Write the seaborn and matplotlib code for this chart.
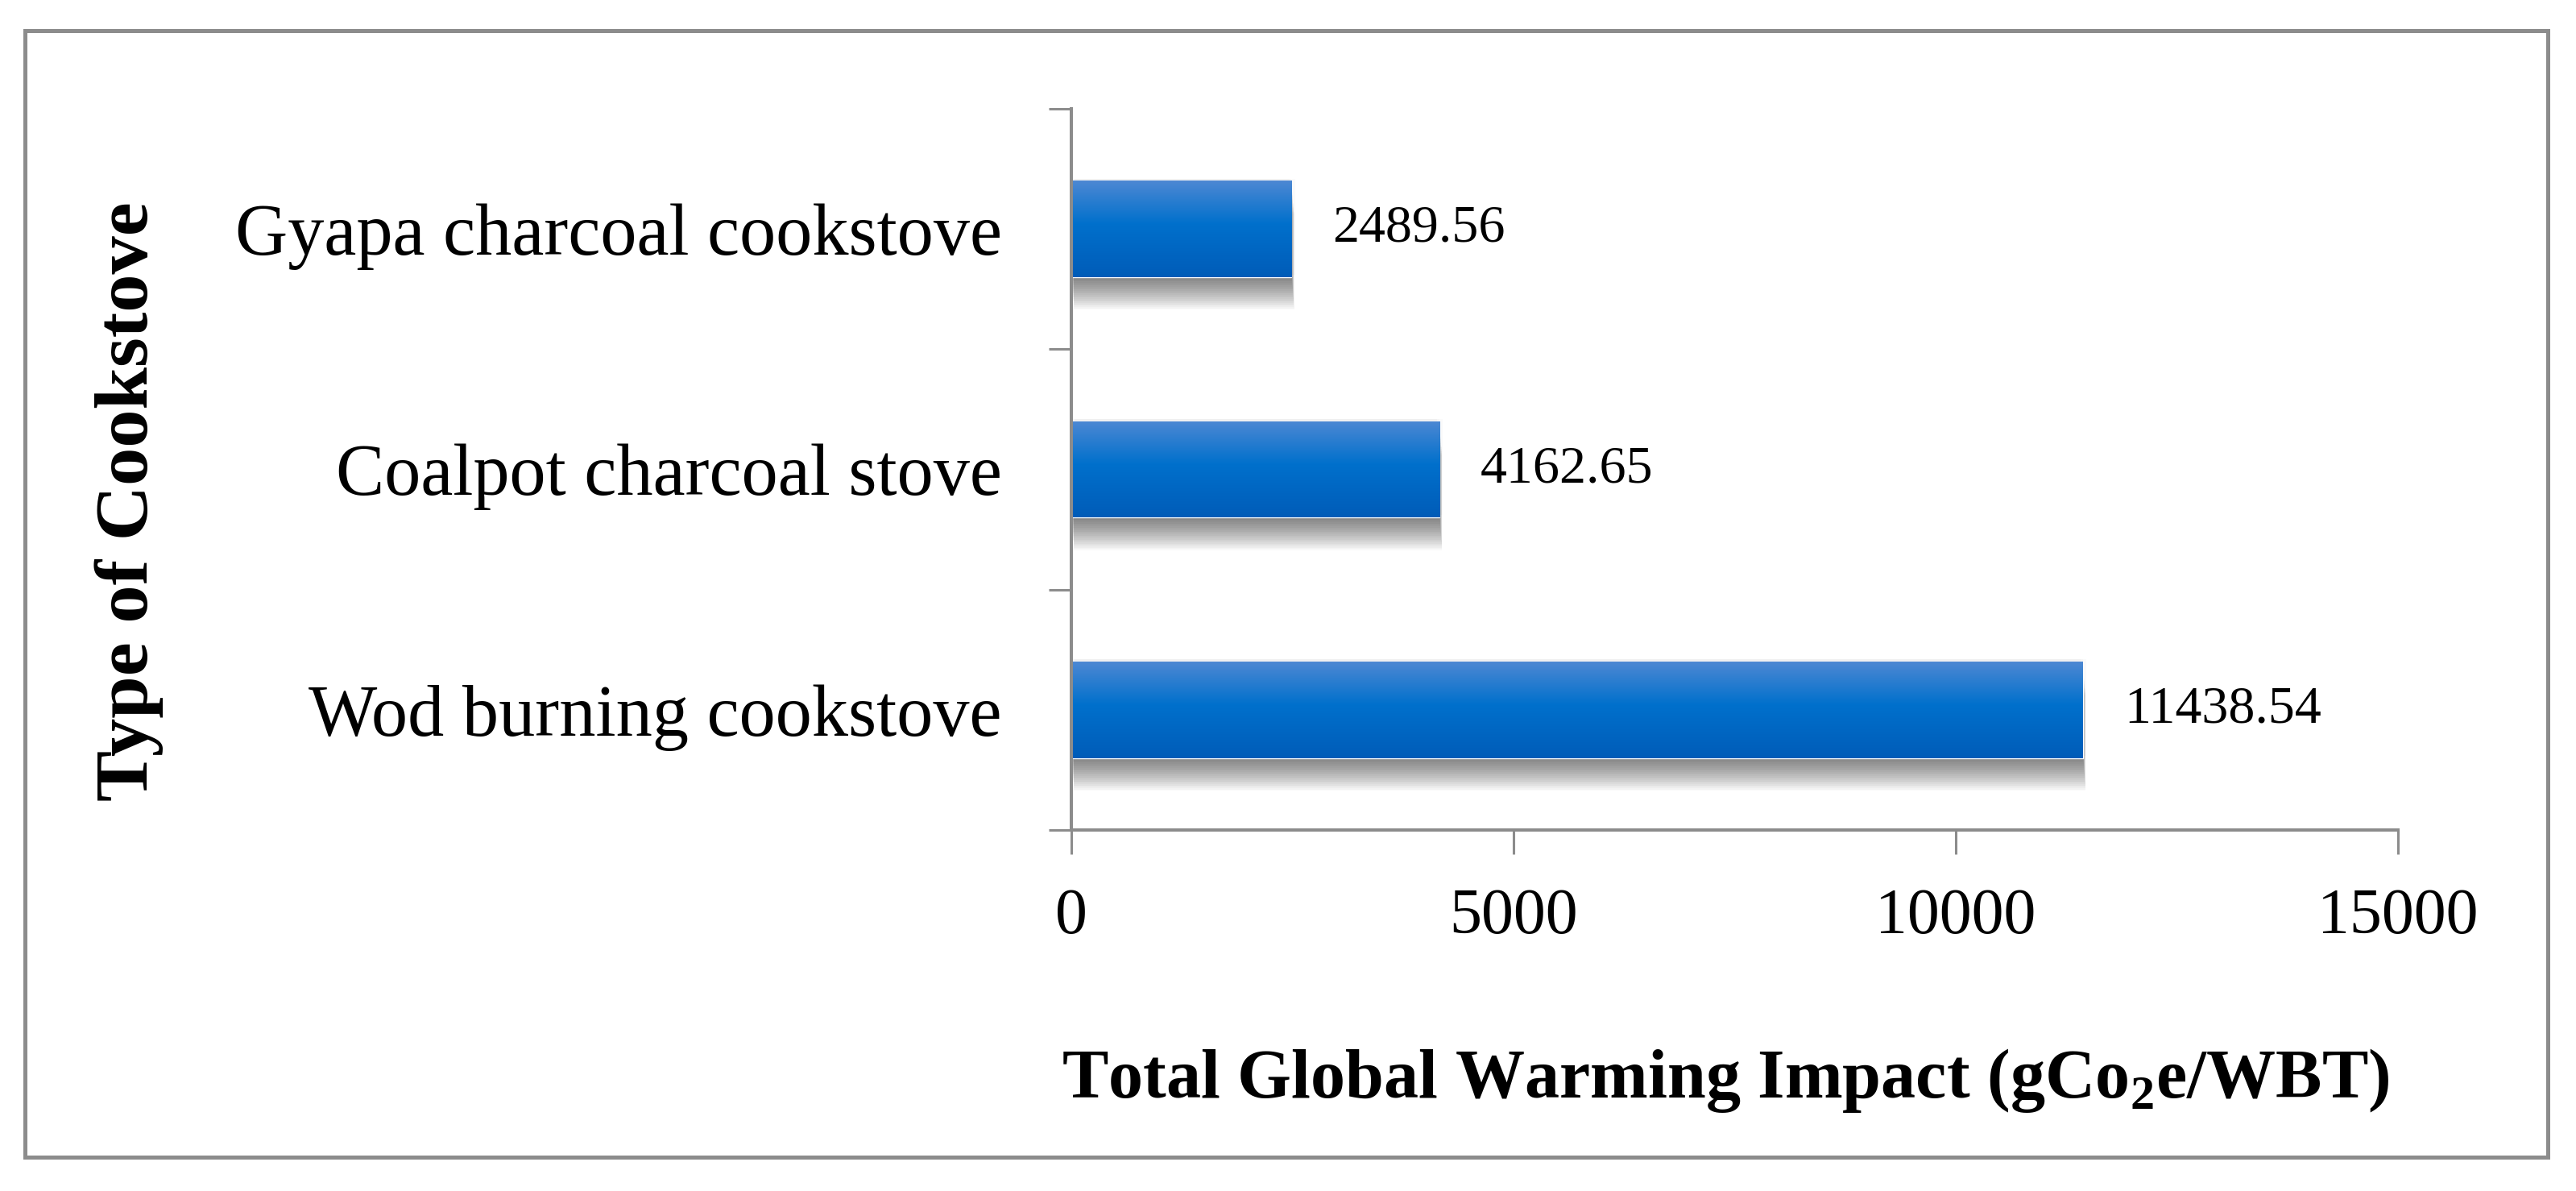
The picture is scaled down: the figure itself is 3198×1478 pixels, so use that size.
import numpy as np
import matplotlib
matplotlib.use('Agg')
import matplotlib.pyplot as plt
import matplotlib.patheffects as pe
from matplotlib.patches import Rectangle
from matplotlib.colors import LinearSegmentedColormap
import seaborn as sns

# datos del grafico
estufas = ['Gyapa charcoal cookstove', 'Coalpot charcoal stove', 'Wod burning cookstove']
impacto = [2489.56, 4162.65, 11438.54]
ticks_x = [0, 5000, 10000, 15000]

sns.set_style('white')
plt.rcParams['font.family'] = ['Liberation Serif', 'DejaVu Serif']
plt.rcParams['text.color'] = 'black'
plt.rcParams['xtick.labelcolor'] = 'black'
plt.rcParams['ytick.labelcolor'] = 'black'
plt.rcParams['mathtext.fontset'] = 'custom'
plt.rcParams['mathtext.rm'] = 'Liberation Serif'
plt.rcParams['mathtext.bf'] = 'Liberation Serif:bold'

gris = '#8c8c8c'
fig = plt.figure(figsize=(31.98, 14.78), dpi=100)
ax = fig.add_axes([0.4159, 0.3031, 0.5150, 0.6056])

sns.barplot(x=impacto, y=estufas, color='#0070cc', saturation=1, width=0.4,
            orient='h', ax=ax)

# degradado y sombra difusa de las barras
cmap = LinearSegmentedColormap.from_list('azul', [(0, '#4d88d3'), (0.45, '#0070cc'), (1, '#005cb8')])
grad = np.linspace(0, 1, 256).reshape(-1, 1)
sombra = [pe.SimplePatchShadow(offset=(0.08 * d, -d), shadow_rgbFace='k', alpha=0.022)
          for d in np.arange(0.5, 30, 1.2)]
sombra += [pe.SimplePatchShadow(offset=(dx, 2), shadow_rgbFace='k', alpha=0.02) for dx in (-2, 0, 3)]
for barra in list(ax.patches):
    x0, y0 = barra.get_x(), barra.get_y()
    w, h = barra.get_width(), barra.get_height()
    barra.set_path_effects(sombra + [pe.Normal()])
    im = ax.imshow(grad, cmap=cmap, aspect='auto', origin='upper',
                   extent=[x0, x0 + w, y0 + h, y0], zorder=barra.get_zorder() + 0.1)
    im.set_clip_path(barra)

ax.set_xlim(0, 15000)
ax.set_ylim(2.5, -0.5)

ax.bar_label(ax.containers[0], labels=[f'{v:.2f}' for v in impacto],
             padding=36.7, fontsize=47.5, color='black')

# ejes
for lado in ['top', 'right']:
    ax.spines[lado].set_visible(False)
for lado in ['left', 'bottom']:
    ax.spines[lado].set_color(gris)
    ax.spines[lado].set_linewidth(2.9)

ax.set_xticks(ticks_x)
ax.set_xticklabels([str(t) for t in ticks_x])
ax.tick_params(axis='x', bottom=True, length=21.6, width=2.2, color=gris,
               direction='out', labelsize=57.6, pad=30)
ax.set_yticks([0, 1, 2])
ax.set_yticklabels(estufas)
ax.tick_params(axis='y', which='major', length=0, pad=62, labelsize=65)
ax.set_yticks([-0.5, 0.5, 1.5, 2.5], minor=True)
ax.tick_params(axis='y', which='minor', left=True, length=20, width=2.2,
               color=gris, direction='out')
ax.set_xlabel('')
ax.set_ylabel('')

fig.text(2142 / 3198, 1 - 1362 / 1478, r'Total Global Warming Impact (gCo$_\mathbf{2}$e/WBT)',
         ha='center', va='baseline', fontsize=62, fontweight='bold')
fig.text(160 / 3198, 1 - 622 / 1478, 'Type of Cookstove', rotation=90,
         ha='center', va='center', fontsize=68, fontweight='bold')

# marco exterior
fig.patches.append(Rectangle((0.0097, 0.0284), 0.9794, 0.9459, transform=fig.transFigure,
                             fill=False, edgecolor=gris, linewidth=3.6))

fig.savefig('out.png', dpi=100)
